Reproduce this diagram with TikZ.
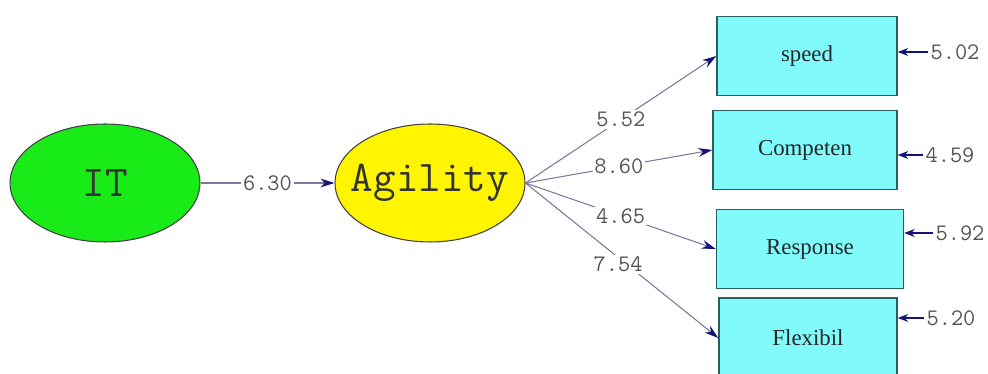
\documentclass[tikz,border=0pt]{standalone}
\usepackage{fontspec}
\setmainfont{Liberation Serif}
\usetikzlibrary{shapes.geometric,arrows.meta}

\definecolor{latgreen}{RGB}{25,235,25}
\definecolor{latyellow}{RGB}{255,245,0}
\definecolor{boxcyan}{RGB}{128,250,250}
\definecolor{boxedge}{RGB}{40,95,95}
\definecolor{linegray}{RGB}{120,120,160}
\definecolor{arrownavy}{RGB}{20,20,120}
\definecolor{numgray}{RGB}{85,85,85}

\begin{document}
\begin{tikzpicture}[x=0.02cm,y=-0.02cm,
  latent/.style={ellipse,draw=black!75,line width=0.6pt,inner sep=0pt,minimum width=3.8cm,minimum height=2.36cm},
  latname/.style={font=\ttfamily\fontsize{25}{25}\selectfont,text=black!80},
  manifest/.style={rectangle,draw=boxedge,fill=boxcyan,line width=0.8pt,inner sep=0pt,minimum width=3.6cm,minimum height=1.58cm,font=\fontsize{13}{13}\selectfont,text=black!85},
  val/.style={font=\ttfamily\fontsize{13.5}{13.5}\selectfont,text=numgray,inner sep=1pt},
  link/.style={draw=linegray,line width=0.6pt,-{Stealth[length=8pt,width=5pt,color=arrownavy]}},
  err/.style={draw=arrownavy,line width=0.9pt,-{Stealth[length=6pt,width=4.5pt,color=arrownavy]}}]

\useasboundingbox (0,0) rectangle (988,374);

\node[latent,fill=latgreen,label={[latname]center:IT}] (IT) at (105,183) {};
\node[latent,fill=latyellow,label={[latname]center:Agility}] (AG) at (430,183) {};

\node[manifest] (SP) at (807,56) {speed};
\node[manifest,minimum width=3.68cm] (CO) at (805,150) {Competen};
\node[manifest,minimum width=3.74cm] (RE) at (810,249) {Response};
\node[manifest,minimum width=3.56cm,minimum height=1.6cm] (FL) at (808,338) {Flexibil};

\node[val] (e1) at (955,52) {5.02};
\node[val] (e2) at (950,155) {4.59};
\node[val] (e3) at (960,233) {5.92};
\node[val] (e4) at (951,318) {5.20};

\draw[link] (IT) -- node[val,fill=white,pos=0.5] {6.30} (AG);

\draw[link] (AG.east) -- node[val,fill=white,pos=0.5] {5.52} (SP.west);
\draw[link] (AG.east) -- node[val,fill=white,pos=0.5] {8.60} (CO.west);
\draw[link] (AG.east) -- node[val,fill=white,pos=0.5] {4.65} (RE.west);
\draw[link] (AG.east) -- node[val,fill=white,pos=0.48,yshift=-4pt] {7.54} (FL.west);

\draw[err] (e1.west) -- (e1.west -| SP.east);
\draw[err] (e2.west) -- (e2.west -| CO.east);
\draw[err] (e3.west) -- (e3.west -| RE.east);
\draw[err] (e4.west) -- (e4.west -| FL.east);

\end{tikzpicture}
\end{document}
